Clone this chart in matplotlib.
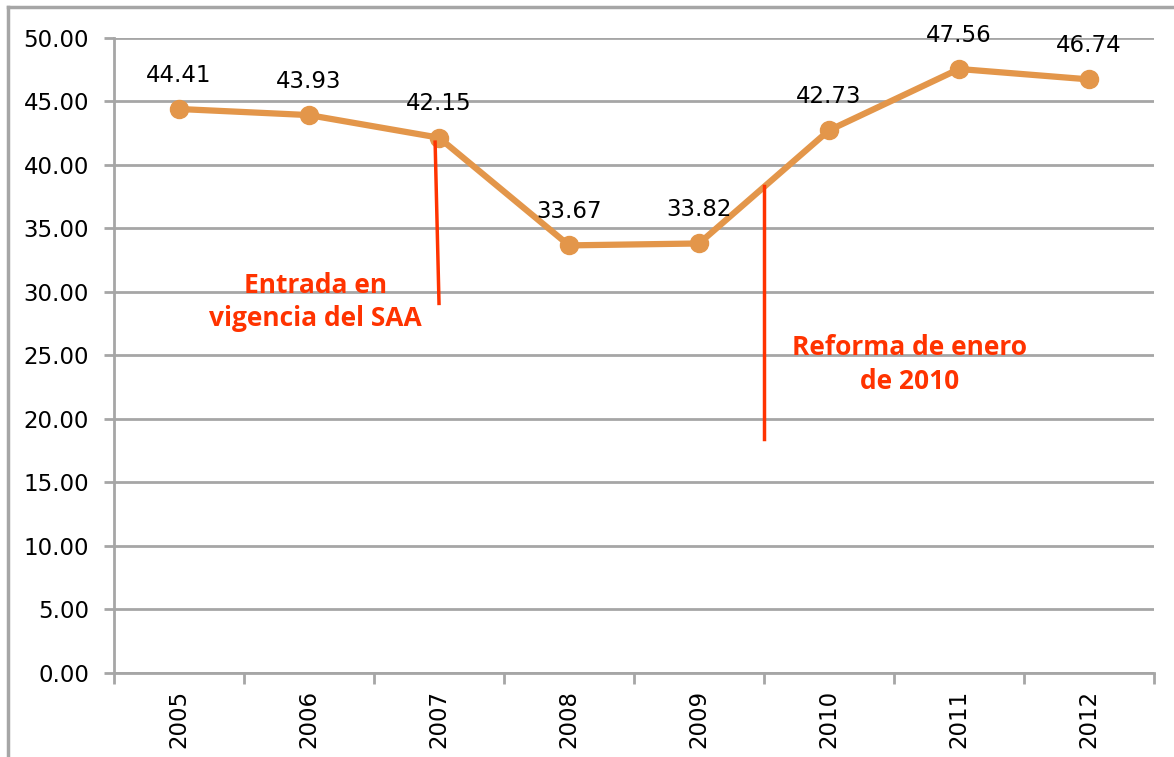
import numpy as np
import matplotlib
matplotlib.use("Agg")
import matplotlib.pyplot as plt
from matplotlib.lines import Line2D

# Data
years = ["2005", "2006", "2007", "2008", "2009", "2010", "2011", "2012"]
values = [44.41, 43.93, 42.15, 33.67, 33.82, 42.73, 47.56, 46.74]
yticks = [0, 5, 10, 15, 20, 25, 30, 35, 40, 45, 50]

# annotation lines: (x0, y0, x1, y1) in data coords
saa_line = [1.97, 41.8, 2.0, 29.1]
reforma_line = [4.5, 38.35, 4.5, 18.4]

ORANGE = "#E3964A"
RED = "#FF3300"
GRID = "#A6A6A6"

fig = plt.figure(figsize=(11.74, 7.57), dpi=100)
ax = fig.add_axes([0.0971, 0.1110, 0.8859, 0.8388])

x = np.arange(len(years))
ax.plot(x, values, color=ORANGE, lw=4.5, marker="o", ms=13, zorder=3)
for xi, v in zip(x, values):
    ax.annotate(f"{v:.2f}", (xi, v), xytext=(0, 16), textcoords="offset points",
                ha="center", va="bottom", fontsize=16.5, color="black")

ax.set_xlim(-0.5, len(years) - 0.5)
ax.set_ylim(0, 50)
ax.set_yticks(yticks)
ax.set_yticklabels([f"{t:.2f}" for t in yticks], fontsize=16.5)
ax.yaxis.grid(True, color=GRID, lw=2)
ax.set_axisbelow(True)

ax.set_xticks(x)
ax.set_xticklabels(years, rotation=90, fontsize=16.5)
ax.set_xticks(np.arange(-0.5, len(years)), minor=True)
ax.tick_params(axis="x", which="major", length=0, pad=12)
ax.tick_params(axis="x", which="minor", length=8, width=2, color=GRID)
ax.tick_params(axis="y", length=7, width=2, color=GRID, pad=11)

for s in ["top", "right"]:
    ax.spines[s].set_visible(False)
for s in ["left", "bottom"]:
    ax.spines[s].set_color(GRID)
    ax.spines[s].set_linewidth(2)

# red marker lines and labels
ax.plot([saa_line[0], saa_line[2]], [saa_line[1], saa_line[3]], color=RED, lw=2.5, zorder=4)
ax.plot([reforma_line[0], reforma_line[2]], [reforma_line[1], reforma_line[3]], color=RED, lw=2.5, zorder=4)
ax.text(1.05, 29.2, "Entrada en\nvigencia del SAA", ha="center", va="center",
        fontsize=19, fontweight="bold", color=RED, family="Open Sans", linespacing=1.3)
ax.text(5.62, 24.3, "Reforma de enero\nde 2010", ha="center", va="center",
        fontsize=19, fontweight="bold", color=RED, family="Open Sans", linespacing=1.3)

# outer border (left and top)
fig.add_artist(Line2D([0.0065, 0.0065], [0, 0.9908], color=GRID, lw=2.5, transform=fig.transFigure))
fig.add_artist(Line2D([0.0065, 1.0], [0.9908, 0.9908], color=GRID, lw=2.5, transform=fig.transFigure))

fig.savefig("out.png", dpi=100)
